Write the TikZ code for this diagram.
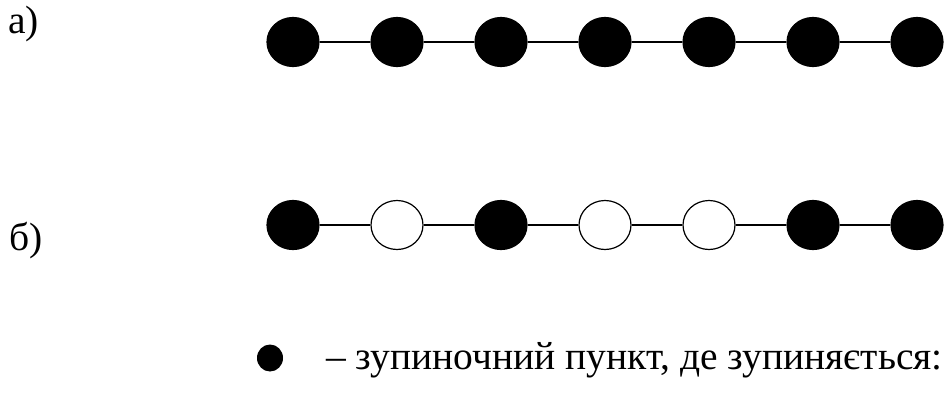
\documentclass[tikz,border=0pt]{standalone}
\usepackage{fontspec}
\setmainfont{Liberation Serif}
\usetikzlibrary{shapes.geometric}

\begin{document}
\begin{tikzpicture}[
  x=1pt, y=-1pt,
  font=\fontsize{39.5}{42}\selectfont,
  every node/.style={inner sep=0pt},
  stopfull/.style={draw, ellipse, fill=black, line width=1.2pt,
                   minimum width=52pt, minimum height=49pt},
  stopopen/.style={stopfull, fill=white},
  link/.style={line width=1.3pt},
  rowlabel/.style={anchor=base west}
]

\useasboundingbox (0,0) rectangle (946,394);

% a) all stops served
\node[rowlabel] (la) at (8,33) {а)};
\foreach \i in {1,...,7}
  \node[stopfull] (a\i) at (189+104*\i,42) {};
\foreach \i [evaluate=\i as \j using int(\i+1)] in {1,...,6}
  \draw[link] (a\i) -- (a\j);

% b) some stops skipped
\node[rowlabel] (lb) at (9,250) {б)};
\foreach \i/\kind in {1/stopfull,2/stopopen,3/stopfull,4/stopopen,
                      5/stopopen,6/stopfull,7/stopfull}
  \node[\kind] (b\i) at (189+104*\i,225) {};
\foreach \i [evaluate=\i as \j using int(\i+1)] in {1,...,6}
  \draw[link] (b\i) -- (b\j);

% legend
\node[ellipse, fill=black, minimum width=26pt, minimum height=27pt]
     (key) at (270,358) {};
\node[anchor=base west] (keytext) at (326,369)
     {– зупиночний пункт, де зупиняється:};

\end{tikzpicture}
\end{document}
